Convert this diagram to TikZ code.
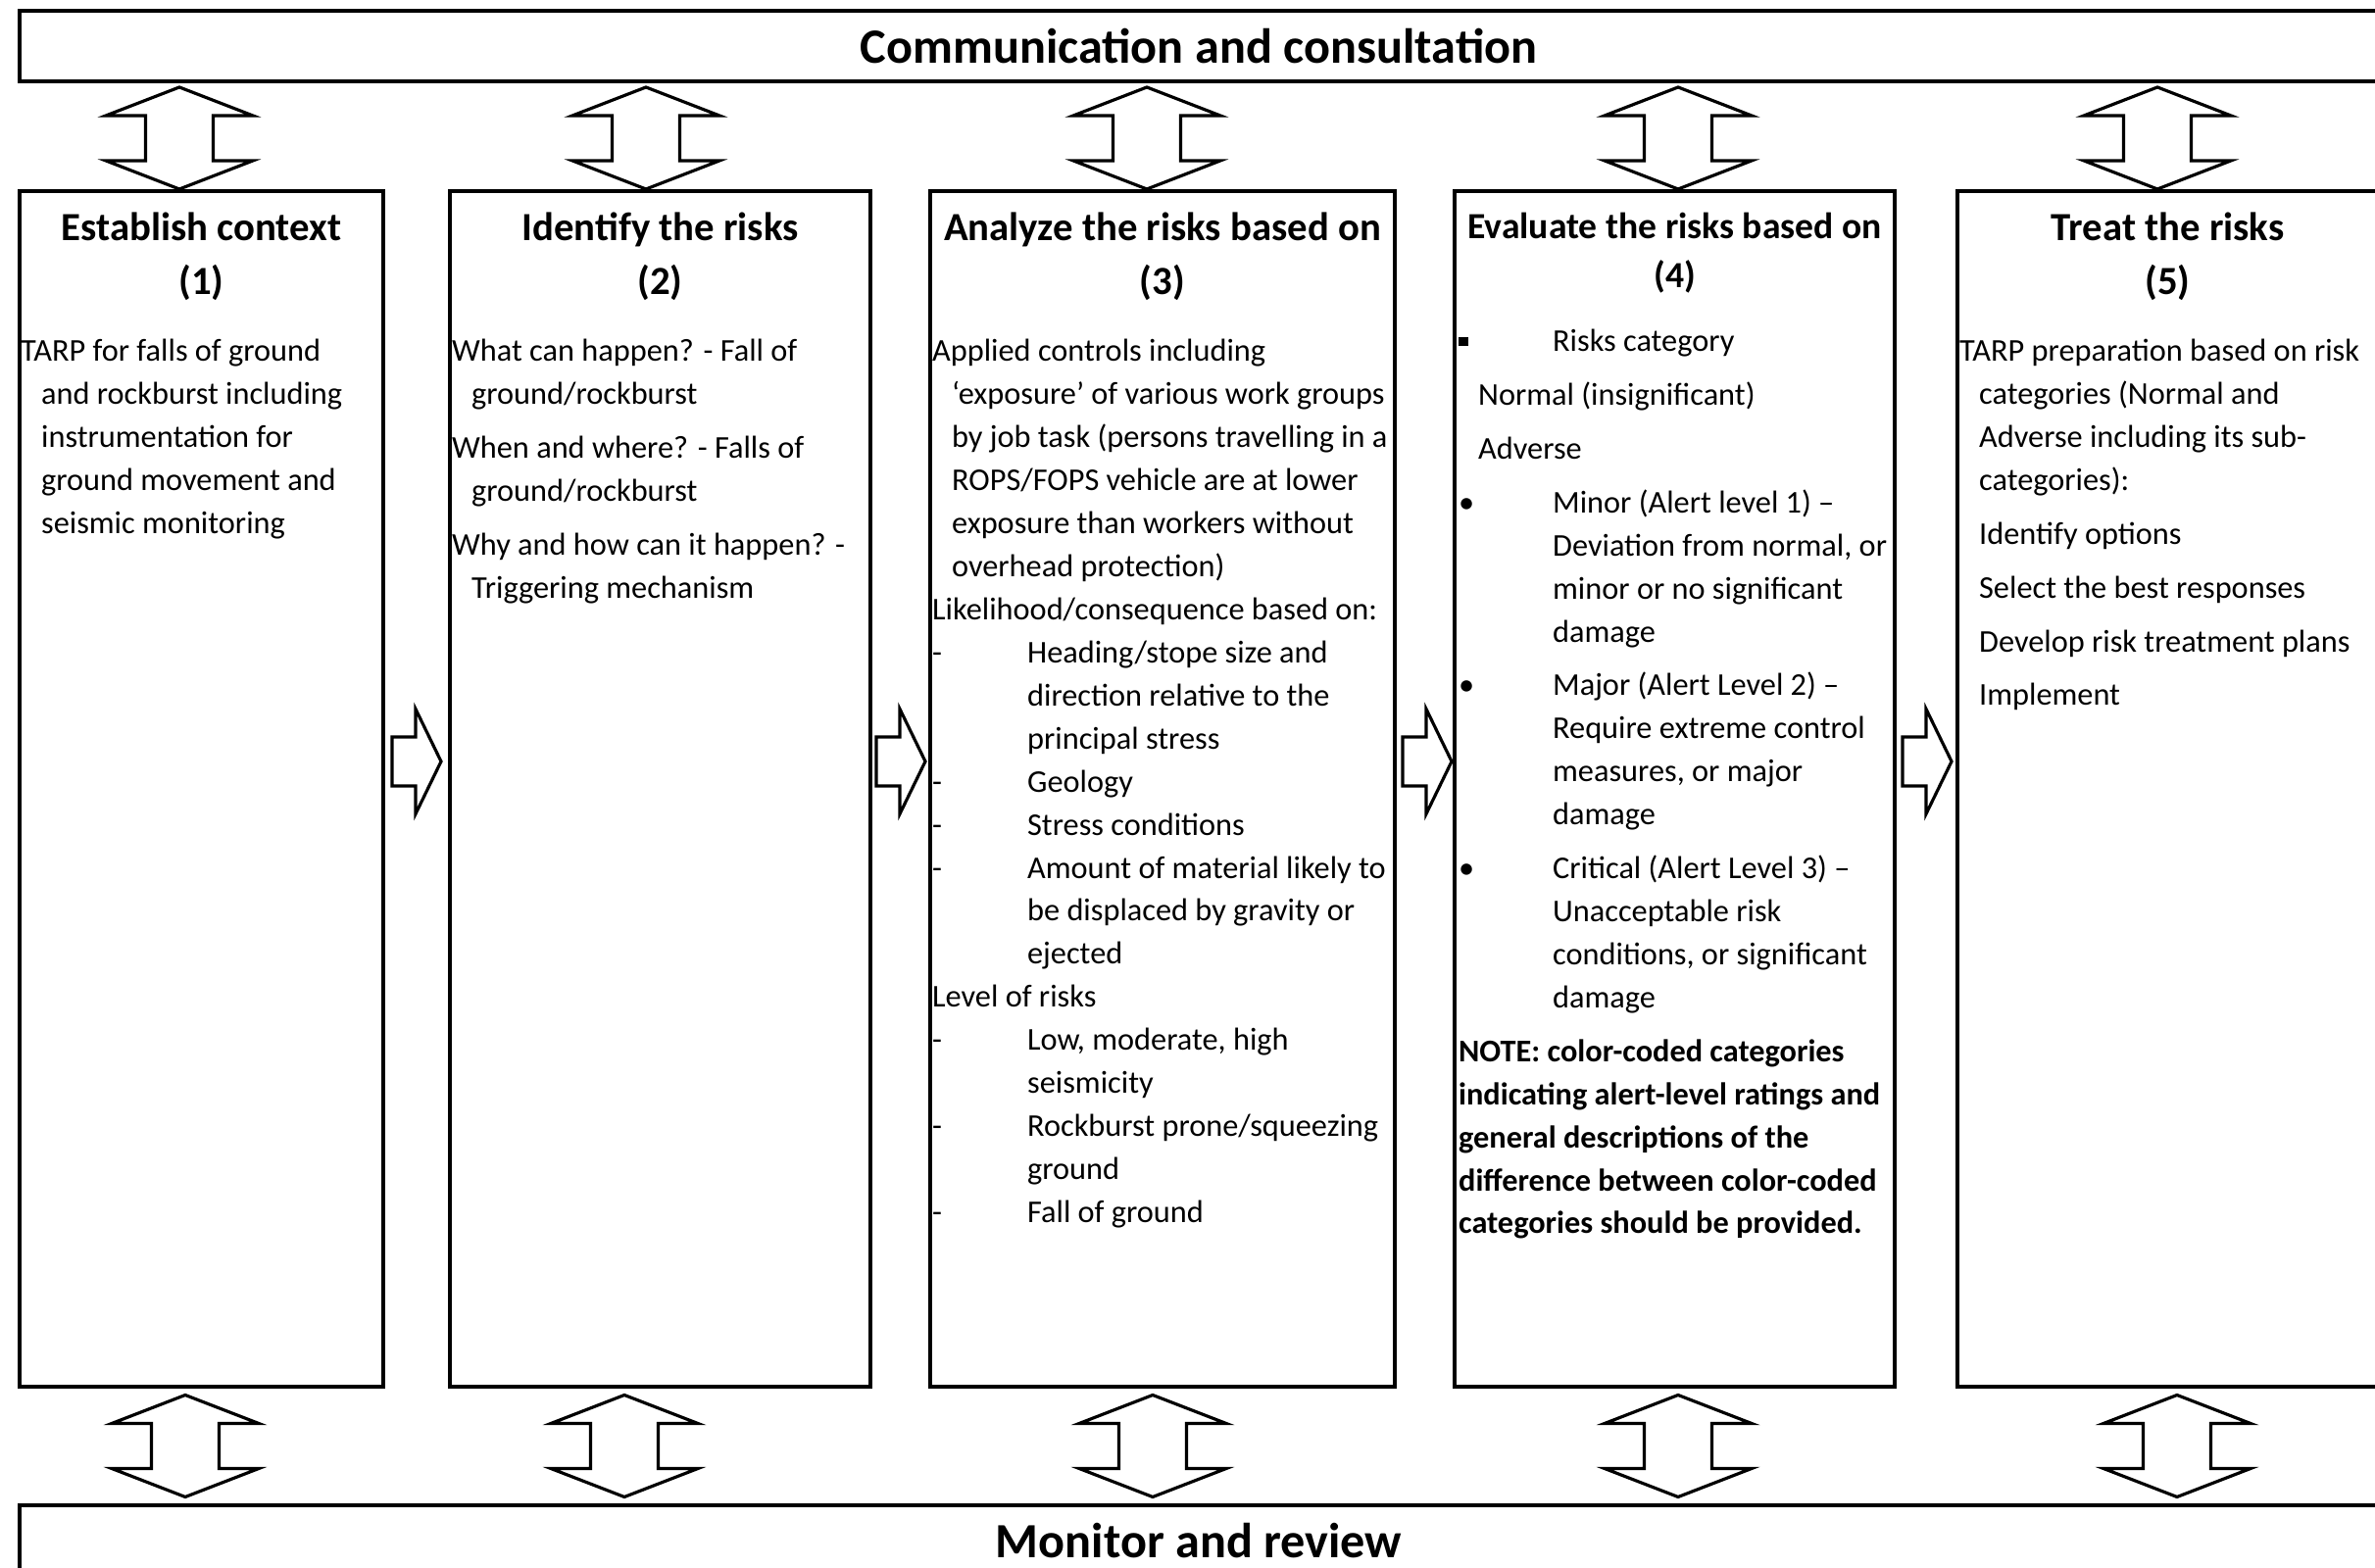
\documentclass[tikz,border=0pt]{standalone}
\usepackage{fontspec}
\setmainfont{Carlito}
\usetikzlibrary{calc}
\newcommand{\dashlead}{\makebox[9.7mm][l]{-}}
\newcommand{\dashcont}{\hspace*{9.7mm}}
\newcommand{\dotlead}{\makebox[9.6mm][l]{•}}
\newcommand{\dotcont}{\hspace*{9.6mm}}

\begin{document}
\begin{tikzpicture}[
    banner/.style={rectangle, draw, line width=0.9pt, inner sep=0pt, minimum width=24.06cm, minimum height=0.72cm, font=\fontsize{14.3}{17}\selectfont\bfseries},
    stagebox/.style={rectangle, draw, line width=0.9pt, inner sep=0pt, minimum height=12.2cm},
    boxtitle/.style={anchor=north, inner sep=0pt, align=center, font=\fontsize{11.6}{15.6}\selectfont\bfseries},
    boxbody/.style={anchor=north west, inner sep=0pt, align=left, font=\fontsize{9.2}{12.5}\selectfont},
    blockarr/.style={draw, line width=0.9pt, fill=white, line join=miter},
    updown/.pic={\draw[blockarr] (0,0.52) -- (0.75,0.23) -- (0.345,0.23) -- (0.345,-0.23) -- (0.75,-0.23) -- (0,-0.52) -- (-0.75,-0.23) -- (-0.345,-0.23) -- (-0.345,0.23) -- (-0.75,0.23) -- cycle;},
    rightward/.pic={\draw[blockarr] (0,0.25) -- (0.24,0.25) -- (0.24,0.535) -- (0.50,0) -- (0.24,-0.535) -- (0.24,-0.25) -- (0,-0.25) -- cycle;}
]
    \useasboundingbox (0,0) rectangle (24.23,16);

    % banners
    \node[banner] (comm) at (12.23,15.53) {Communication and consultation};
    \node[banner] (mon)  at (12.23,0.28)  {Monitor and review};

    % process boxes
    \node[stagebox, minimum width=3.71cm] (ctx) at (2.055,7.95)  {};
    \node[stagebox, minimum width=4.29cm] (idn) at (6.735,7.95)  {};
    \node[stagebox, minimum width=4.74cm] (ana) at (11.86,7.95)  {};
    \node[stagebox, minimum width=4.49cm] (evl) at (17.085,7.95) {};
    \node[stagebox, minimum width=4.29cm] (trt) at (22.115,7.95) {};

    \node[boxtitle] (ctxT) at ($(ctx.north)+(0,-0.131)$) {\strut Establish context\\(1)};
    \node[boxtitle] (idnT) at ($(idn.north)+(0,-0.131)$) {\strut Identify the risks\\(2)};
    \node[boxtitle] (anaT) at ($(ana.north)+(0,-0.131)$) {\strut Analyze the risks based on\\(3)};
    \node[boxtitle, font=\fontsize{10.7}{14.2}\selectfont\bfseries] (evlT) at ($(evl.north)+(0,-0.141)$) {\strut Evaluate the risks based on\\(4)};
    \node[boxtitle] (trtT) at ($(trt.north)+(0,-0.131)$) {\strut Treat the risks\\(5)};

    \node[boxbody] (ctxB) at ($(ctx.north west)+(0.02,-1.44)$) {\strut TARP for falls of ground\\
        \hspace*{2.1mm}and rockburst including\\
        \hspace*{2.1mm}instrumentation for\\
        \hspace*{2.1mm}ground movement and\\
        \hspace*{2.1mm}seismic monitoring};
    \node[boxbody] (idnB) at ($(idn.north west)+(0.03,-1.44)$) {\strut What can happen? - Fall of\\
        \hspace*{2mm}ground/rockburst\\[3.1pt]
        When and where? - Falls of\\
        \hspace*{2mm}ground/rockburst\\[3.1pt]
        Why and how can it happen? -\\
        \hspace*{2mm}Triggering mechanism};
    \node[boxbody] (anaB) at ($(ana.north west)+(0.03,-1.44)$) {\strut Applied controls including\\
        \hspace*{2mm}‘exposure’ of various work groups\\
        \hspace*{2mm}by job task (persons travelling in a\\
        \hspace*{2mm}ROPS/FOPS vehicle are at lower\\
        \hspace*{2mm}exposure than workers without\\
        \hspace*{2mm}overhead protection)\\
        Likelihood/consequence based on:\\
        \dashlead Heading/stope size and\\
        \dashcont direction relative to the\\
        \dashcont principal stress\\
        \dashlead Geology\\
        \dashlead Stress conditions\\
        \dashlead Amount of material likely to\\
        \dashcont be displaced by gravity or\\
        \dashcont ejected\\
        Level of risks\\
        \dashlead Low, moderate, high\\
        \dashcont seismicity\\
        \dashlead Rockburst prone/squeezing\\
        \dashcont ground\\
        \dashlead Fall of ground};
    \node[boxbody] (evlB) at ($(evl.north west)+(0.05,-1.34)$) {\strut\makebox[9.6mm][l]{\rule[1.6pt]{1.0mm}{0.95mm}}Risks category\\[3.1pt]
        \hspace*{2mm}Normal (insignificant)\\[3.1pt]
        \hspace*{2mm}Adverse\\[3.1pt]
        \dotlead Minor (Alert level 1) –\\
        \dotcont Deviation from normal, or\\
        \dotcont minor or no significant\\
        \dotcont damage\\[3.1pt]
        \dotlead Major (Alert Level 2) –\\
        \dotcont Require extreme control\\
        \dotcont measures, or major\\
        \dotcont damage\\[3.1pt]
        \dotlead Critical (Alert Level 3) –\\
        \dotcont Unacceptable risk\\
        \dotcont conditions, or significant\\
        \dotcont damage\\[3.1pt]
        \textbf{NOTE: color-coded categories}\\
        \textbf{indicating alert-level ratings and}\\
        \textbf{general descriptions of the}\\
        \textbf{difference between color-coded}\\
        \textbf{categories should be provided.}};
    \node[boxbody] (trtB) at ($(trt.north west)+(0.03,-1.44)$) {\strut TARP preparation based on risk\\
        \hspace*{2mm}categories (Normal and\\
        \hspace*{2mm}Adverse including its sub-\\
        \hspace*{2mm}categories):\\[3.1pt]
        \hspace*{2mm}Identify options\\[3.1pt]
        \hspace*{2mm}Select the best responses\\[3.1pt]
        \hspace*{2mm}Develop risk treatment plans\\[3.1pt]
        \hspace*{2mm}Implement};

    % block arrows
    \pic at (1.83,14.59)  {updown};
    \pic at (6.59,14.59)  {updown};
    \pic at (11.70,14.59) {updown};
    \pic at (17.12,14.59) {updown};
    \pic at (22.01,14.59) {updown};
    \pic at (4.00,8.23)  {rightward};
    \pic at (8.94,8.23)  {rightward};
    \pic at (14.31,8.23) {rightward};
    \pic at (19.41,8.23) {rightward};
    \pic at (1.89,1.245)  {updown};
    \pic at (6.37,1.245)  {updown};
    \pic at (11.76,1.245) {updown};
    \pic at (17.12,1.245) {updown};
    \pic at (22.21,1.245) {updown};
\end{tikzpicture}
\end{document}
